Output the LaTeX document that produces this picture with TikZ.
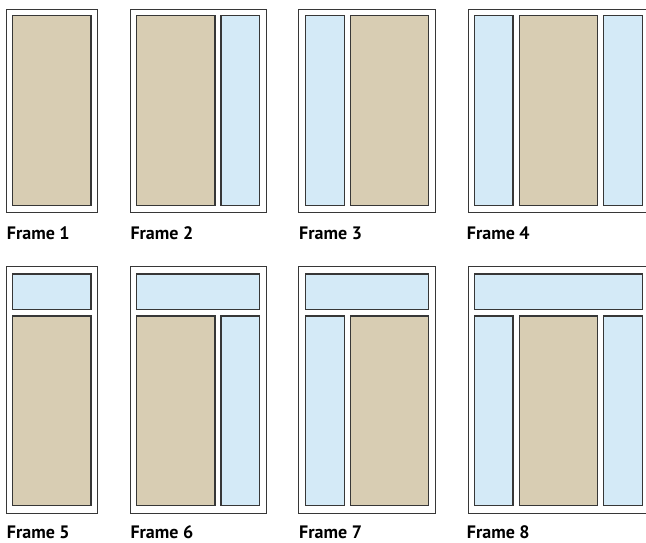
\documentclass[tikz,border=0pt]{standalone}
\usepackage{fontspec}
\setmainfont{PT Sans}
\definecolor{tanfill}{RGB}{216,205,179}
\definecolor{skyfill}{RGB}{212,234,247}
\definecolor{edge}{RGB}{55,55,55}
\tikzset{
  outerbox/.style={draw=edge, line width=1pt, fill=white},
  tanbox/.style={draw=edge, line width=1.4pt, fill=tanfill},
  skybox/.style={draw=edge, line width=1.4pt, fill=skyfill},
  lbl/.style={anchor=base west, inner sep=0pt, text depth=0pt, font=\fontsize{18}{20}\selectfont\bfseries}
}
\begin{document}
\begin{tikzpicture}[x=1pt,y=-1pt]
\useasboundingbox (0,0) rectangle (646,542);
\begin{scope}
\clip (0,0) rectangle (646,542);
% ---------- Row 1 ----------
% Frame 1
\draw[outerbox] (6.5,9) rectangle (97,212.7);
\draw[tanbox] (12.7,15.3) rectangle (91,205.7);
% Frame 2
\draw[outerbox] (130.3,9) rectangle (266,212.7);
\draw[tanbox] (136.7,15.3) rectangle (215,205.7);
\draw[skybox] (221,15.3) rectangle (259.7,205.7);
% Frame 3
\draw[outerbox] (298.7,9) rectangle (435,212.7);
\draw[skybox] (305.7,15.3) rectangle (344.3,205.7);
\draw[tanbox] (350.3,15.3) rectangle (428.3,205.7);
% Frame 4
\draw[outerbox] (468,9) rectangle (648.5,212.7);
\draw[skybox] (474.3,15.3) rectangle (513,205.7);
\draw[tanbox] (519.3,15.3) rectangle (597.3,205.7);
\draw[skybox] (603.7,15.3) rectangle (642.3,205.7);
% ---------- Row 2 ----------
% Frame 5
\draw[outerbox] (6.5,266.3) rectangle (97,513);
\draw[skybox] (12.7,274) rectangle (91,309.3);
\draw[tanbox] (12.7,316) rectangle (91,505.7);
% Frame 6
\draw[outerbox] (130.3,266.3) rectangle (266,513);
\draw[skybox] (136.7,274) rectangle (259.7,309.3);
\draw[tanbox] (136.7,316) rectangle (215,505.7);
\draw[skybox] (221,316) rectangle (259.7,505.7);
% Frame 7
\draw[outerbox] (298.7,266.3) rectangle (435,513);
\draw[skybox] (305.7,274) rectangle (428.3,309.3);
\draw[skybox] (305.7,316) rectangle (344.3,505.7);
\draw[tanbox] (350.3,316) rectangle (428.3,505.7);
% Frame 8
\draw[outerbox] (468,266.3) rectangle (648.5,513);
\draw[skybox] (474.3,274) rectangle (642.3,309.3);
\draw[skybox] (474.3,316) rectangle (513,505.7);
\draw[tanbox] (519.3,316) rectangle (597.3,505.7);
\draw[skybox] (603.7,316) rectangle (642.3,505.7);
\end{scope}
% ---------- Labels ----------
\node[lbl] (l1) at (6.7,239) {Frame 1};
\node[lbl] (l2) at (130.3,239) {Frame 2};
\node[lbl] (l3) at (299,239) {Frame 3};
\node[lbl] (l4) at (466.7,239) {Frame 4};
\node[lbl] (l5) at (6.7,538.3) {Frame 5};
\node[lbl] (l6) at (130.3,538.3) {Frame 6};
\node[lbl] (l7) at (299,538.3) {Frame 7};
\node[lbl] (l8) at (466.7,538.3) {Frame 8};
\end{tikzpicture}
\end{document}
